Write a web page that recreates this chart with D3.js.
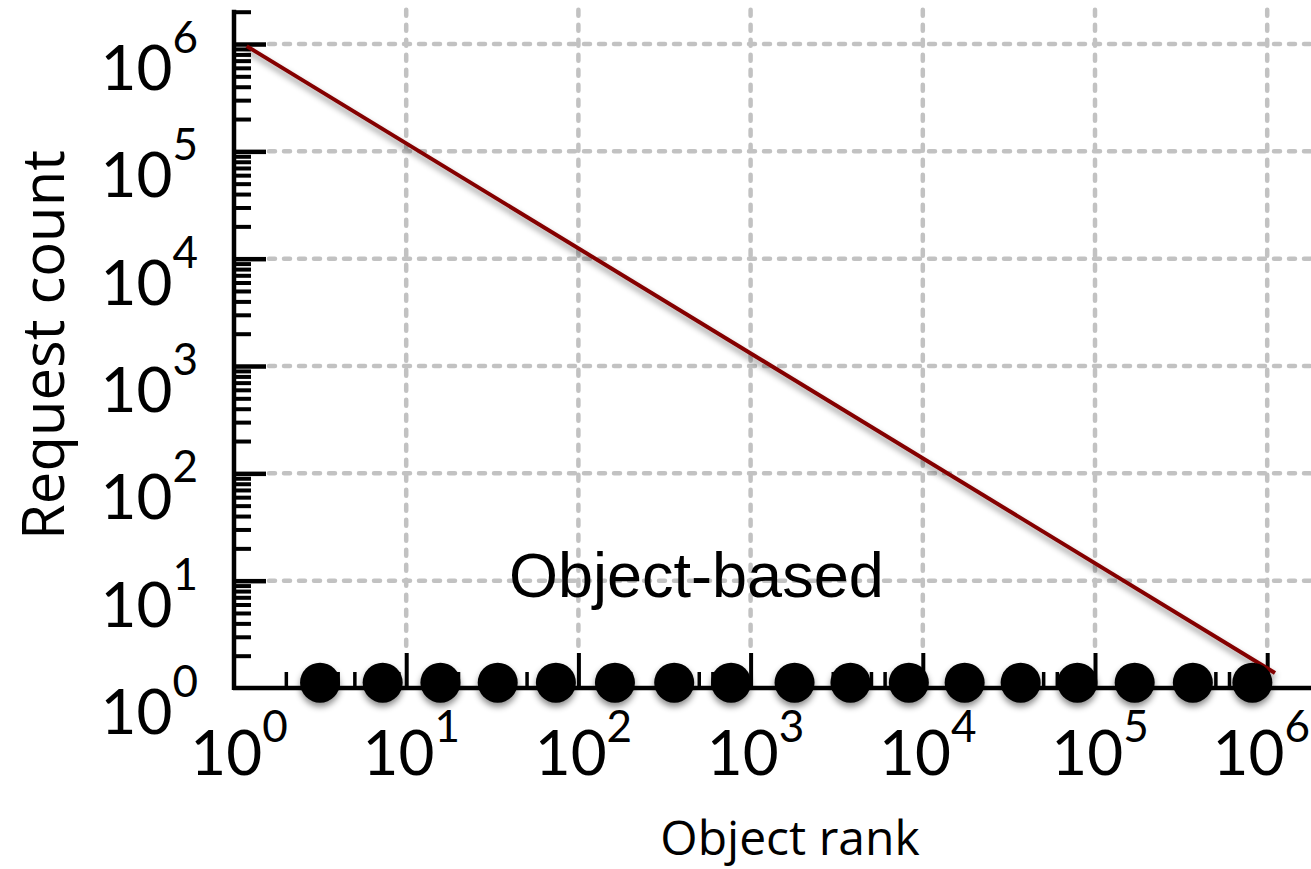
<!DOCTYPE html>
<html>
<head>
<meta charset="utf-8">
<script src="https://cdn.jsdelivr.net/npm/d3@7"></script>
<style>
  html, body { margin: 0; padding: 0; background: #fff; }
  svg { display: block; }
</style>
</head>
<body>
<svg id="chart" width="1311" height="869"></svg>
<script>
// ---- data ----
const majorTicks = [1, 10, 100, 1000, 10000, 100000, 1000000];
const tickExponents = ["0", "1", "2", "3", "4", "5", "6"];
const dotRank = [3.16, 7.3, 15.8, 34, 74, 163, 360, 770, 1800, 3800, 8300, 17500, 37000, 79000, 170000, 370000, 820000];
const dotCount = [1.12, 1.12, 1.12, 1.12, 1.12, 1.12, 1.12, 1.12, 1.12, 1.12, 1.12, 1.12, 1.12, 1.12, 1.12, 1.12, 1.12];
const lineRank = [1.185, 1110000];
const lineCount = [956000, 1.38];
const annotation = "Object-based";
const xTitle = "Object rank";
const yTitle = "Request count";

// ---- layout ----
const svg = d3.select("#chart");
const x = d3.scaleLog().domain([1, 2e6]).range([234, 234 + Math.log10(2e6) * 172.2]);
const y = d3.scaleLog().domain([1, 2e6]).range([688, 688 - Math.log10(2e6) * 107.33]);

const minorTicks = [];
for (let e = 0; e <= 6; e++) {
  for (let m = 2; m <= 9; m++) {
    const v = m * Math.pow(10, e);
    if (v <= 2e6) minorTicks.push(v);
  }
}

const defs = svg.append("defs");
const f = defs.append("filter").attr("id", "shadow")
  .attr("x", "-50%").attr("y", "-50%").attr("width", "200%").attr("height", "200%");
f.append("feDropShadow").attr("dx", 0).attr("dy", 4).attr("stdDeviation", 3)
  .attr("flood-color", "#000").attr("flood-opacity", 0.45);

// ---- grid ----
const grid = svg.append("g").attr("stroke", "#c2c2c2").attr("stroke-width", 4.5)
  .attr("stroke-dasharray", "6 9").attr("stroke-linecap", "round").attr("fill", "none");
grid.selectAll("line.h").data(majorTicks.slice(1)).join("line").attr("class", "h")
  .attr("x1", 269).attr("x2", 1311).attr("y1", d => y(d)).attr("y2", d => y(d));
grid.selectAll("line.v").data(majorTicks.slice(1)).join("line").attr("class", "v")
  .attr("x1", d => x(d)).attr("x2", d => x(d)).attr("y1", y(2e6) - 2).attr("y2", 648);

// ---- axes ----
function styleAxis(g, w) {
  g.select(".domain").remove();
  g.selectAll(".tick line").attr("stroke", "#000").attr("stroke-width", w);
  g.selectAll(".tick text").remove();
}
const xMinor = svg.append("g").attr("transform", `translate(0,${y(1)})`)
  .call(d3.axisBottom(x).tickValues(minorTicks).tickSize(-16).tickSizeOuter(0).tickFormat(""));
styleAxis(xMinor, 3.5);
const xMajor = svg.append("g").attr("transform", `translate(0,${y(1)})`)
  .call(d3.axisBottom(x).tickValues(majorTicks.slice(1)).tickSize(-35).tickSizeOuter(0).tickFormat(""));
styleAxis(xMajor, 4);
const yMinor = svg.append("g").attr("transform", `translate(${x(1)},0)`)
  .call(d3.axisLeft(y).tickValues(minorTicks).tickSize(-17).tickSizeOuter(0).tickFormat(""));
styleAxis(yMinor, 4);
const yMajor = svg.append("g").attr("transform", `translate(${x(1)},0)`)
  .call(d3.axisLeft(y).tickValues(majorTicks.slice(1)).tickSize(-32).tickSizeOuter(0).tickFormat(""));
styleAxis(yMajor, 4.5);

// axis lines
svg.append("line").attr("x1", x(1) - 1).attr("x2", 1311).attr("y1", y(1)).attr("y2", y(1))
  .attr("stroke", "#000").attr("stroke-width", 4.5);
svg.append("line").attr("x1", x(1)).attr("x2", x(1)).attr("y1", y(2e6) - 2).attr("y2", y(1) + 2)
  .attr("stroke", "#000").attr("stroke-width", 4.5);

// ---- series line ----
const lineData = lineRank.map((r, i) => [r, lineCount[i]]);
svg.append("path").datum(lineData)
  .attr("d", d3.line().x(d => x(d[0])).y(d => y(d[1])))
  .attr("fill", "none").attr("stroke", "#840000").attr("stroke-width", 4)
  .attr("filter", "url(#shadow)");

// ---- dots ----
svg.append("g").attr("filter", "url(#shadow)")
  .selectAll("circle").data(dotRank.map((r, i) => [r, dotCount[i]])).join("circle")
  .attr("cx", d => x(d[0])).attr("cy", d => y(d[1])).attr("r", 20).attr("fill", "#000");

// ---- tick labels ----
const tickFont = "Lato, 'DejaVu Sans', sans-serif";
const yl = svg.append("g").attr("font-family", tickFont).attr("fill", "#000");
majorTicks.forEach((v, i) => {
  const t = yl.append("text").attr("x", 198).attr("y", y(v) + 46).attr("text-anchor", "end")
    .attr("font-size", 62);
  t.append("tspan").text("10");
  t.append("tspan").attr("font-size", 44).attr("dy", -37).text(tickExponents[i]);
});
const xl = svg.append("g").attr("font-family", tickFont).attr("fill", "#000");
majorTicks.forEach((v, i) => {
  const last = i === majorTicks.length - 1;
  const t = xl.append("text").attr("x", last ? 1310 : x(v) + 5).attr("y", 775)
    .attr("text-anchor", last ? "end" : "middle")
    .attr("font-size", 62);
  t.append("tspan").text("10");
  t.append("tspan").attr("font-size", 44).attr("dy", -33).text(tickExponents[i]);
});

// ---- annotation & titles ----
svg.append("text").attr("x", 509).attr("y", 597)
  .attr("font-family", "'Liberation Sans', Arial, sans-serif").attr("font-size", 63)
  .attr("fill", "#000").text(annotation);
svg.append("text").attr("x", 790).attr("y", 855).attr("text-anchor", "middle")
  .attr("font-family", "'Open Sans', sans-serif").attr("font-size", 48)
  .attr("fill", "#000").text(xTitle);
svg.append("text").attr("transform", "translate(64,345) rotate(-90)").attr("text-anchor", "middle")
  .attr("font-family", "'Open Sans', sans-serif").attr("font-size", 58)
  .attr("fill", "#000").text(yTitle);
</script>
</body>
</html>
